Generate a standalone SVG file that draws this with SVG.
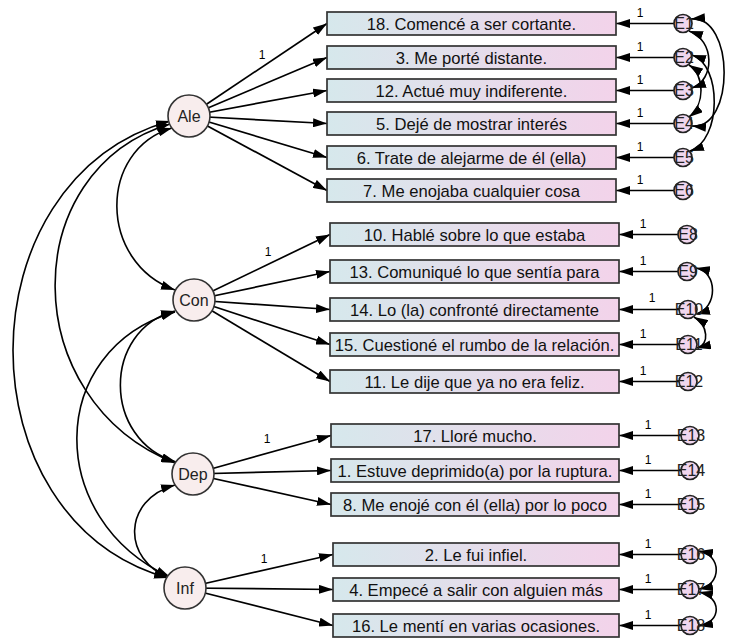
<svg xmlns="http://www.w3.org/2000/svg" width="737" height="639" viewBox="0 0 737 639">
<defs>
<linearGradient id="bg" x1="0" y1="0" x2="1" y2="0">
<stop offset="0" stop-color="#d6e8ec"/>
<stop offset="1" stop-color="#f3d3ea"/>
</linearGradient>
<marker id="ah" viewBox="0 0 14 9" refX="14" refY="4.5" markerWidth="14" markerHeight="9" markerUnits="userSpaceOnUse" orient="auto-start-reverse">
<path d="M0,0 L14,4.5 L0,9 z" fill="#000"/>
</marker>
<style>
.box{fill:url(#bg);stroke:#333;stroke-width:1.7}
.bt{font-family:"Liberation Sans",Arial,sans-serif;font-size:16.6px;fill:#111;text-anchor:middle}
.lat{fill:#f8eded;stroke:#333;stroke-width:1.6}
.lt{font-family:"Liberation Sans",Arial,sans-serif;font-size:16px;fill:#222;text-anchor:middle}
.err{fill:#f0d6ee;stroke:#222;stroke-width:1.7}
.et{font-family:"Liberation Sans",Arial,sans-serif;font-size:16px;fill:#222;text-anchor:middle}
.one{font-family:"Liberation Sans",Arial,sans-serif;font-size:12px;fill:#000;text-anchor:middle}
.ln{stroke:#000;stroke-width:1.7;fill:none;marker-end:url(#ah)}
.cv{stroke:#000;stroke-width:1.6;fill:none;marker-start:url(#ah);marker-end:url(#ah)}
</style>
</defs>
<rect width="737" height="639" fill="#fff"/>
<g id="connectors">
<line class="ln" x1="189" y1="116" x2="327" y2="23.5"/>
<line class="ln" x1="189" y1="116" x2="327" y2="57.5"/>
<line class="ln" x1="189" y1="116" x2="327" y2="90.5"/>
<line class="ln" x1="189" y1="116" x2="327" y2="123.5"/>
<line class="ln" x1="189" y1="116" x2="327" y2="157.5"/>
<line class="ln" x1="189" y1="116" x2="327" y2="190.5"/>
<line class="ln" x1="194" y1="300" x2="330" y2="234.5"/>
<line class="ln" x1="194" y1="300" x2="330" y2="271.5"/>
<line class="ln" x1="194" y1="300" x2="330" y2="309.5"/>
<line class="ln" x1="194" y1="300" x2="330" y2="344.5"/>
<line class="ln" x1="194" y1="300" x2="330" y2="381.5"/>
<line class="ln" x1="193" y1="474" x2="331" y2="435.5"/>
<line class="ln" x1="193" y1="474" x2="331" y2="470.5"/>
<line class="ln" x1="193" y1="474" x2="331" y2="504.5"/>
<line class="ln" x1="185" y1="588" x2="333" y2="554.5"/>
<line class="ln" x1="185" y1="588" x2="333" y2="589.5"/>
<line class="ln" x1="185" y1="588" x2="333" y2="625.5"/>
<line class="ln" x1="683" y1="23.5" x2="616" y2="23.5"/>
<line class="ln" x1="683" y1="57.5" x2="616" y2="57.5"/>
<line class="ln" x1="683" y1="90.5" x2="616" y2="90.5"/>
<line class="ln" x1="683" y1="123.5" x2="616" y2="123.5"/>
<line class="ln" x1="683" y1="157.5" x2="616" y2="157.5"/>
<line class="ln" x1="683" y1="190.5" x2="616" y2="190.5"/>
<line class="ln" x1="687" y1="234.5" x2="619" y2="234.5"/>
<line class="ln" x1="687" y1="271.5" x2="619" y2="271.5"/>
<line class="ln" x1="688" y1="309.5" x2="619" y2="309.5"/>
<line class="ln" x1="688" y1="344.5" x2="619" y2="344.5"/>
<line class="ln" x1="688" y1="381.5" x2="619" y2="381.5"/>
<line class="ln" x1="690" y1="435.5" x2="619" y2="435.5"/>
<line class="ln" x1="690" y1="470.5" x2="619" y2="470.5"/>
<line class="ln" x1="690" y1="504.5" x2="619" y2="504.5"/>
<line class="ln" x1="690" y1="554.5" x2="619" y2="554.5"/>
<line class="ln" x1="690" y1="589.5" x2="619" y2="589.5"/>
<line class="ln" x1="690" y1="625.5" x2="619" y2="625.5"/>
<path class="cv" d="M172,128 C98,150 98,262 175,290"/>
<path class="cv" d="M170,124 C16,170 16,400 175,463"/>
<path class="cv" d="M170,121 C-39,180 -39,520 168,578"/>
<path class="cv" d="M175,311 C102,330 102,440 176,462"/>
<path class="cv" d="M175,312 C45,350 45,520 170,577"/>
<path class="cv" d="M175,485 C122,500 122,560 170,578"/>
<path class="cv" d="M691,19 C735,15 735,130 692,126"/>
<path class="cv" d="M689,31 C715,40 715,80 692,88"/>
<path class="cv" d="M692,55 C722,65 722,140 690,151"/>
<path class="cv" d="M689,65 C705,75 705,105 689,117"/>
<path class="cv" d="M696,268 C718,272 718,308 696,314"/>
<path class="cv" d="M694,317 C708,325 710,345 697,348"/>
<path class="cv" d="M699,551 C722,555 722,585 699,589"/>
<path class="cv" d="M699,592 C722,597 722,622 699,626"/>
<text class="one" x="262" y="59">1</text>
<text class="one" x="268" y="256">1</text>
<text class="one" x="267" y="443">1</text>
<text class="one" x="264" y="563">1</text>
<text class="one" x="640" y="17">1</text>
<text class="one" x="640" y="51">1</text>
<text class="one" x="640" y="84">1</text>
<text class="one" x="640" y="117">1</text>
<text class="one" x="640" y="151">1</text>
<text class="one" x="640" y="184">1</text>
<text class="one" x="643" y="228">1</text>
<text class="one" x="643" y="265">1</text>
<text class="one" x="652" y="302">1</text>
<text class="one" x="643" y="338">1</text>
<text class="one" x="643" y="375">1</text>
<text class="one" x="648" y="429">1</text>
<text class="one" x="648" y="464">1</text>
<text class="one" x="648" y="498">1</text>
<text class="one" x="648" y="548">1</text>
<text class="one" x="648" y="583">1</text>
<text class="one" x="648" y="619">1</text>
</g>
<g id="latents">
<g id="Ale"><circle class="lat" cx="189" cy="116" r="21"/><text class="lt" x="189" y="122">Ale</text></g>
<g id="Con"><circle class="lat" cx="194" cy="300" r="21"/><text class="lt" x="194" y="306">Con</text></g>
<g id="Dep"><circle class="lat" cx="193" cy="474" r="21"/><text class="lt" x="193" y="480">Dep</text></g>
<g id="Inf"><circle class="lat" cx="185" cy="588" r="21"/><text class="lt" x="185" y="594">Inf</text></g>
</g>
<g id="items">
<g id="i18"><rect class="box" x="327" y="12" width="289" height="23"/><text class="bt" x="471.5" y="29.5">18. Comencé a ser cortante.</text></g>
<g id="i3"><rect class="box" x="327" y="46" width="289" height="23"/><text class="bt" x="471.5" y="63.5">3. Me porté distante.</text></g>
<g id="i12"><rect class="box" x="327" y="79" width="289" height="23"/><text class="bt" x="471.5" y="96.5">12. Actué muy indiferente.</text></g>
<g id="i5"><rect class="box" x="327" y="112" width="289" height="23"/><text class="bt" x="471.5" y="129.5">5. Dejé de mostrar interés</text></g>
<g id="i6"><rect class="box" x="327" y="146" width="289" height="23"/><text class="bt" x="471.5" y="163.5">6. Trate de alejarme de él (ella)</text></g>
<g id="i7"><rect class="box" x="327" y="179" width="289" height="23"/><text class="bt" x="471.5" y="196.5">7. Me enojaba cualquier cosa</text></g>
<g id="i10"><rect class="box" x="330" y="223" width="289" height="23"/><text class="bt" x="474.5" y="240.5">10. Hablé sobre lo que estaba</text></g>
<g id="i13"><rect class="box" x="330" y="260" width="289" height="23"/><text class="bt" x="474.5" y="277.5">13. Comuniqué lo que sentía para</text></g>
<g id="i14"><rect class="box" x="330" y="298" width="289" height="23"/><text class="bt" x="474.5" y="315.5">14. Lo (la) confronté directamente</text></g>
<g id="i15"><rect class="box" x="330" y="333" width="289" height="23"/><text class="bt" x="474.5" y="350.5">15. Cuestioné el rumbo de la relación.</text></g>
<g id="i11"><rect class="box" x="330" y="370" width="289" height="23"/><text class="bt" x="474.5" y="387.5">11. Le dije que ya no era feliz.</text></g>
<g id="i17"><rect class="box" x="331" y="424" width="288" height="23"/><text class="bt" x="475" y="441.5">17. Lloré mucho.</text></g>
<g id="i1"><rect class="box" x="331" y="459" width="288" height="23"/><text class="bt" x="475" y="476.5">1. Estuve deprimido(a) por la ruptura.</text></g>
<g id="i8"><rect class="box" x="331" y="493" width="288" height="23"/><text class="bt" x="475" y="510.5">8. Me enojé con él (ella) por lo poco</text></g>
<g id="i2"><rect class="box" x="333" y="543" width="286" height="23"/><text class="bt" x="476" y="560.5">2. Le fui infiel.</text></g>
<g id="i4"><rect class="box" x="333" y="578" width="286" height="23"/><text class="bt" x="476" y="595.5">4. Empecé a salir con alguien más</text></g>
<g id="i16"><rect class="box" x="333" y="614" width="286" height="23"/><text class="bt" x="476" y="631.5">16. Le mentí en varias ocasiones.</text></g>
</g>
<g id="errors">
<g id="E1"><circle class="err" cx="683" cy="23.5" r="9"/><text class="et" x="684" y="29">E1</text></g>
<g id="E2"><circle class="err" cx="683" cy="57.5" r="9"/><text class="et" x="684" y="63">E2</text></g>
<g id="E3"><circle class="err" cx="683" cy="90.5" r="9"/><text class="et" x="684" y="96">E3</text></g>
<g id="E4"><circle class="err" cx="683" cy="123.5" r="9"/><text class="et" x="684" y="129">E4</text></g>
<g id="E5"><circle class="err" cx="683" cy="157.5" r="9"/><text class="et" x="684" y="163">E5</text></g>
<g id="E6"><circle class="err" cx="683" cy="190.5" r="9"/><text class="et" x="684" y="196">E6</text></g>
<g id="E8"><circle class="err" cx="687" cy="234.5" r="9"/><text class="et" x="688" y="240">E8</text></g>
<g id="E9"><circle class="err" cx="687" cy="271.5" r="9"/><text class="et" x="688" y="277">E9</text></g>
<g id="E10"><circle class="err" cx="688" cy="309.5" r="9"/><text class="et" x="689" y="315">E10</text></g>
<g id="E11"><circle class="err" cx="688" cy="344.5" r="9"/><text class="et" x="689" y="350">E11</text></g>
<g id="E12"><circle class="err" cx="688" cy="381.5" r="9"/><text class="et" x="689" y="387">E12</text></g>
<g id="E13"><circle class="err" cx="690" cy="435.5" r="9"/><text class="et" x="691" y="441">E13</text></g>
<g id="E14"><circle class="err" cx="690" cy="470.5" r="9"/><text class="et" x="691" y="476">E14</text></g>
<g id="E15"><circle class="err" cx="690" cy="504.5" r="9"/><text class="et" x="691" y="510">E15</text></g>
<g id="E16"><circle class="err" cx="690" cy="554.5" r="9"/><text class="et" x="691" y="560">E16</text></g>
<g id="E17"><circle class="err" cx="690" cy="589.5" r="9"/><text class="et" x="691" y="595">E17</text></g>
<g id="E18"><circle class="err" cx="690" cy="625.5" r="9"/><text class="et" x="691" y="631">E18</text></g>
</g>
</svg>
